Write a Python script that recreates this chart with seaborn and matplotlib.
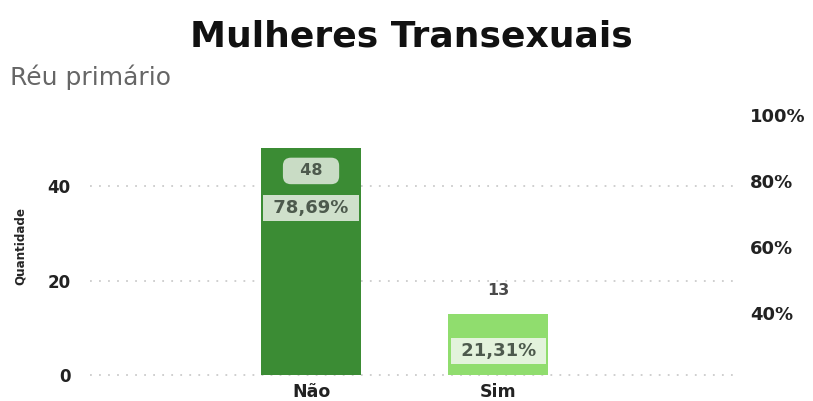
import matplotlib
matplotlib.use('Agg')
import matplotlib.pyplot as plt
import seaborn as sns
import pandas as pd

# ── dados ─────────────────────────────────────────────
categorias = ['Não', 'Sim']
quantidades = [48, 13]
cores = ['#3b8c34', '#90dd6e']
pct_ticks = [40, 60, 80, 100]
qtd_ticks = [0, 20, 40]

total = sum(quantidades)
percentuais = [q / total * 100 for q in quantidades]
df = pd.DataFrame({'Categoria': categorias, 'Quantidade': quantidades})

sns.set_theme(style='white')
plt.rcParams['font.family'] = ['DejaVu Sans']

fig = plt.figure(figsize=(8.13, 4.01), dpi=100)
ax = fig.add_axes([0.1107, 0.0449, 0.7995, 0.6808])

sns.barplot(data=df, x='Categoria', y='Quantidade', hue='Categoria',
            palette=dict(zip(categorias, cores)), width=0.535,
            legend=False, ax=ax, saturation=1, linewidth=0)

ax.set_xlim(-1.18, 2.29)
ax.set_ylim(-1.69, 56.1)
ax.set_yticks(qtd_ticks)
ax.set_yticklabels([str(t) for t in qtd_ticks], fontsize=12, fontweight='bold')
ax.tick_params(axis='y', length=0, pad=14, colors='#222222')
ax.tick_params(axis='x', length=0, pad=0, labelsize=12.5, colors='#222222')
for lbl in ax.get_xticklabels():
    lbl.set_fontweight('bold')
ax.set_xlabel('')
ax.set_ylabel('Quantidade', fontsize=9.5, fontweight='bold',
              fontstretch='condensed', labelpad=15)
ax.yaxis.grid(True, linestyle=(0, (1, 4)), color='#cccccc', linewidth=1.3)
ax.set_axisbelow(True)
for s in ax.spines.values():
    s.set_visible(False)

# eixo secundário (%)
ax2 = ax.twinx()
ax2.set_ylim(18.79, 101.5)
ax2.set_yticks(pct_ticks)
ax2.set_yticklabels([f'{t}%' for t in pct_ticks], fontsize=13, fontweight='bold')
ax2.tick_params(axis='y', length=0, pad=7, colors='#222222')
for s in ax2.spines.values():
    s.set_visible(False)
ax2.grid(False)

# rótulos
txt_c = '#4d5a4d'
# Não
ax.text(0, quantidades[0] - 4.8, f'  {quantidades[0]}  ', ha='center', va='center',
        fontsize=11.5, fontweight='bold', color=txt_c,
        bbox=dict(boxstyle='round,pad=0.36,rounding_size=0.5', fc='#c9dcc5', ec='none'))
ax.text(0, 35.3, ' ' + f'{percentuais[0]:.2f}%'.replace('.', ',') + ' ',
        ha='center', va='center', fontsize=13, fontweight='bold', color=txt_c,
        bbox=dict(boxstyle='square,pad=0.22', fc='#cfe0cb', ec='none'))
# Sim
ax.text(1, quantidades[1] + 4.9, str(quantidades[1]), ha='center', va='center',
        fontsize=11.5, fontweight='bold', color='#4a4a4a')
ax.text(1, 5.1, ' ' + f'{percentuais[1]:.2f}%'.replace('.', ',') + ' ',
        ha='center', va='center', fontsize=13, fontweight='bold', color=txt_c,
        bbox=dict(boxstyle='square,pad=0.22', fc='#e3f3dc', ec='none'))

fig.text(0.506, 0.908, 'Mulheres Transexuais', ha='center', va='center',
         fontsize=26, fontweight='bold', color='#111111')
fig.text(0.012, 0.808, 'Réu primário', ha='left', va='center',
         fontsize=18, color='#666666')

fig.savefig('out.png', dpi=100)
